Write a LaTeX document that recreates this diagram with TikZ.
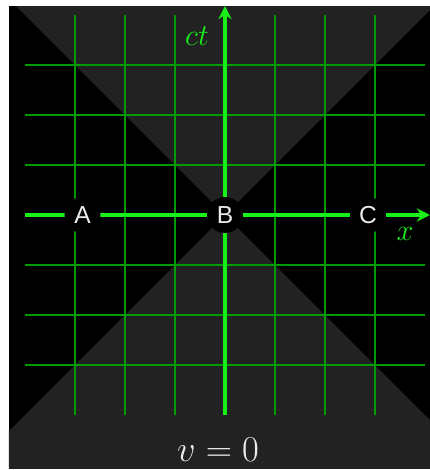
\documentclass[tikz,border=0pt]{standalone}
\usepackage{fontspec}
\newfontfamily\eventfont{Liberation Sans}
\usetikzlibrary{arrows.meta, positioning}
\definecolor{gridgreen}{RGB}{0,155,0}
\definecolor{axisgreen}{RGB}{25,240,25}
\definecolor{conegray}{RGB}{34,34,34}
\definecolor{labelwhite}{RGB}{235,235,235}

\begin{document}
\begin{tikzpicture}[
        gridline/.style={gridgreen, line width=1.2pt},
        axis/.style={-{Stealth[length=7.5pt, width=7.5pt]}, axisgreen, line width=1.8pt},
        event/.style={circle, fill=black, inner sep=0pt, minimum size=0.72cm, text=labelwhite, font=\eventfont\fontsize{14}{15}\selectfont},
        axislabel/.style={text=axisgreen, font=\fontsize{18}{20}\selectfont}
    ]
        \useasboundingbox[fill=white] (-4.5,-5.1) rectangle (4.1,4.3);
        \fill[black] (-4.32,-5.06) rectangle (4.1,4.18);

        % Light cones
        \begin{scope}
            \clip (-4.32,-5.06) rectangle (4.1,4.18);
            \fill[conegray] (0,0) -- (-6,6) -- (6,6) -- cycle;
            \fill[conegray] (0,0) -- (-6,-6) -- (6,-6) -- cycle;
        \end{scope}

        % Grid
        \foreach \k in {-3,-2,-1,1,2,3} {
            \draw[gridline] (\k,-4) -- (\k,4);
            \draw[gridline] (-4,\k) -- (4,\k);
        }

        % Axes
        \coordinate (xstart) at (-4,0);
        \coordinate (xend)   at (4.1,0);
        \coordinate (tstart) at (0,-4);
        \coordinate (tend)   at (0,4.18);
        \draw[axis] (xstart) -- (xend);
        \draw[axis] (tstart) -- (tend);

        \node[event] (a) at (-2.85,0) {A};
        \node[event] (b) at (0,0)     {B};
        \node[event] (c) at (2.86,0)  {C};

        \node[axislabel] (ctlabel) at (-0.56,3.58) {$ct$};
        \node[axislabel] (xlabel)  at (3.6,-0.38)  {$x$};
        \node[text=labelwhite, inner sep=0pt, font=\fontsize{20.5}{23}\selectfont] (vlabel) at (-0.14,-4.7) {$v = 0$};
    \end{tikzpicture}
\end{document}
